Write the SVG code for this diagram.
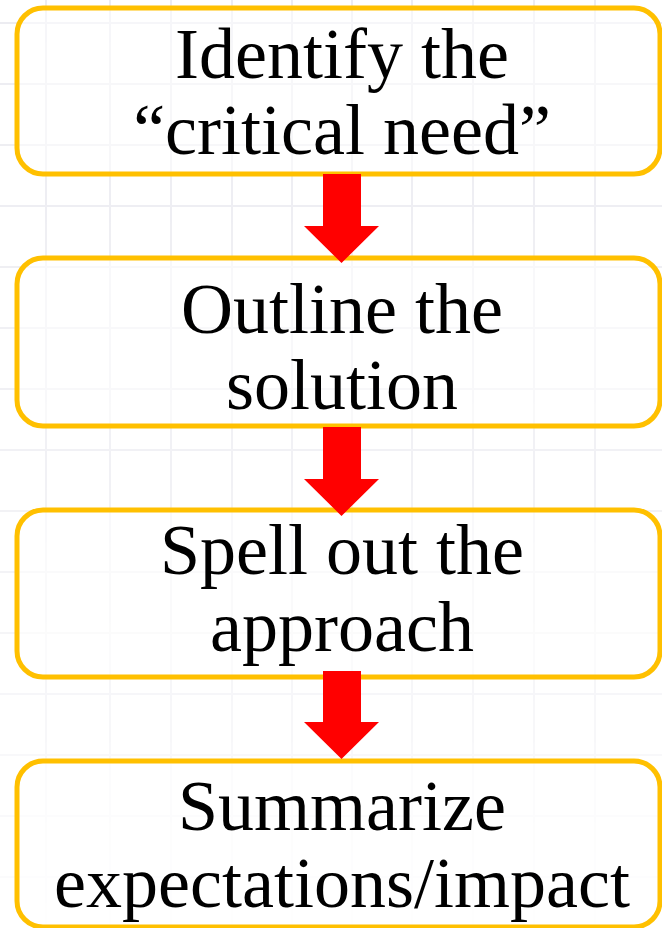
<svg xmlns="http://www.w3.org/2000/svg" width="662" height="928" viewBox="0 0 662 928">
  <defs>
    <style>
      .grid line { stroke: #ececf1; stroke-width: 2; }
      .box { fill: #ffffff; fill-opacity: 0.55; stroke: #ffc000; stroke-width: 5; }
      .label { font-family: "Liberation Serif", "Times New Roman", serif; font-size: 72px; fill: #000000; text-anchor: middle; }
      .arrow { fill: #ff0000; }
    </style>
    <linearGradient id="fade" x1="0" y1="0" x2="0" y2="1">
      <stop offset="0" stop-color="#fff" stop-opacity="1"/>
      <stop offset="0.55" stop-color="#fff" stop-opacity="0.7"/>
      <stop offset="1" stop-color="#fff" stop-opacity="0.15"/>
    </linearGradient>
    <mask id="gridmask">
      <rect x="0" y="0" width="662" height="928" fill="url(#fade)"/>
    </mask>
  </defs>
  <rect x="0" y="0" width="662" height="928" fill="#ffffff"/>
  <g class="grid" mask="url(#gridmask)">
    <line x1="46" y1="0" x2="46" y2="928"/>
    <line x1="110" y1="0" x2="110" y2="928"/>
    <line x1="171" y1="0" x2="171" y2="928"/>
    <line x1="232" y1="0" x2="232" y2="928"/>
    <line x1="292" y1="0" x2="292" y2="928"/>
    <line x1="352" y1="0" x2="352" y2="928"/>
    <line x1="412" y1="0" x2="412" y2="928"/>
    <line x1="473" y1="0" x2="473" y2="928"/>
    <line x1="534" y1="0" x2="534" y2="928"/>
    <line x1="595" y1="0" x2="595" y2="928"/>
    <line x1="0" y1="23" x2="662" y2="23"/>
    <line x1="0" y1="84" x2="662" y2="84"/>
    <line x1="0" y1="145" x2="662" y2="145"/>
    <line x1="0" y1="206" x2="662" y2="206"/>
    <line x1="0" y1="267" x2="662" y2="267"/>
    <line x1="0" y1="328" x2="662" y2="328"/>
    <line x1="0" y1="389" x2="662" y2="389"/>
    <line x1="0" y1="450" x2="662" y2="450"/>
    <line x1="0" y1="511" x2="662" y2="511"/>
    <line x1="0" y1="572" x2="662" y2="572"/>
    <line x1="0" y1="633" x2="662" y2="633"/>
    <line x1="0" y1="694" x2="662" y2="694"/>
    <line x1="0" y1="755" x2="662" y2="755"/>
    <line x1="0" y1="816" x2="662" y2="816"/>
    <line x1="0" y1="877" x2="662" y2="877"/>
  </g>

  <g id="node-identify">
    <rect class="box" x="17" y="8" width="643" height="166" rx="26" ry="26"/>
    <text class="label" x="342" y="78">Identify the</text>
    <text class="label" x="342" y="154">“critical need”</text>
  </g>
  <g id="node-outline">
    <rect class="box" x="17" y="258" width="643" height="168" rx="26" ry="26"/>
    <text class="label" x="342" y="333">Outline the</text>
    <text class="label" x="342" y="409">solution</text>
  </g>
  <g id="node-spell">
    <rect class="box" x="17" y="510" width="643" height="167" rx="26" ry="26"/>
    <text class="label" x="342" y="574">Spell out the</text>
    <text class="label" x="342" y="651">approach</text>
  </g>
  <g id="node-summarize">
    <rect class="box" x="17" y="761" width="643" height="166" rx="26" ry="26"/>
    <text class="label" x="342" y="830">Summarize</text>
    <text class="label" x="342" y="907">expectations/impact</text>
  </g>

  <g id="connectors">
    <polygon class="arrow" points="323,174 361,174 361,226 379,226 341.5,263 304,226 323,226"/>
    <polygon class="arrow" points="323,427 361,427 361,479 379,479 341.5,516 304,479 323,479"/>
    <polygon class="arrow" points="323,671 361,671 361,722 379,722 341.5,759 304,722 323,722"/>
  </g>
</svg>
